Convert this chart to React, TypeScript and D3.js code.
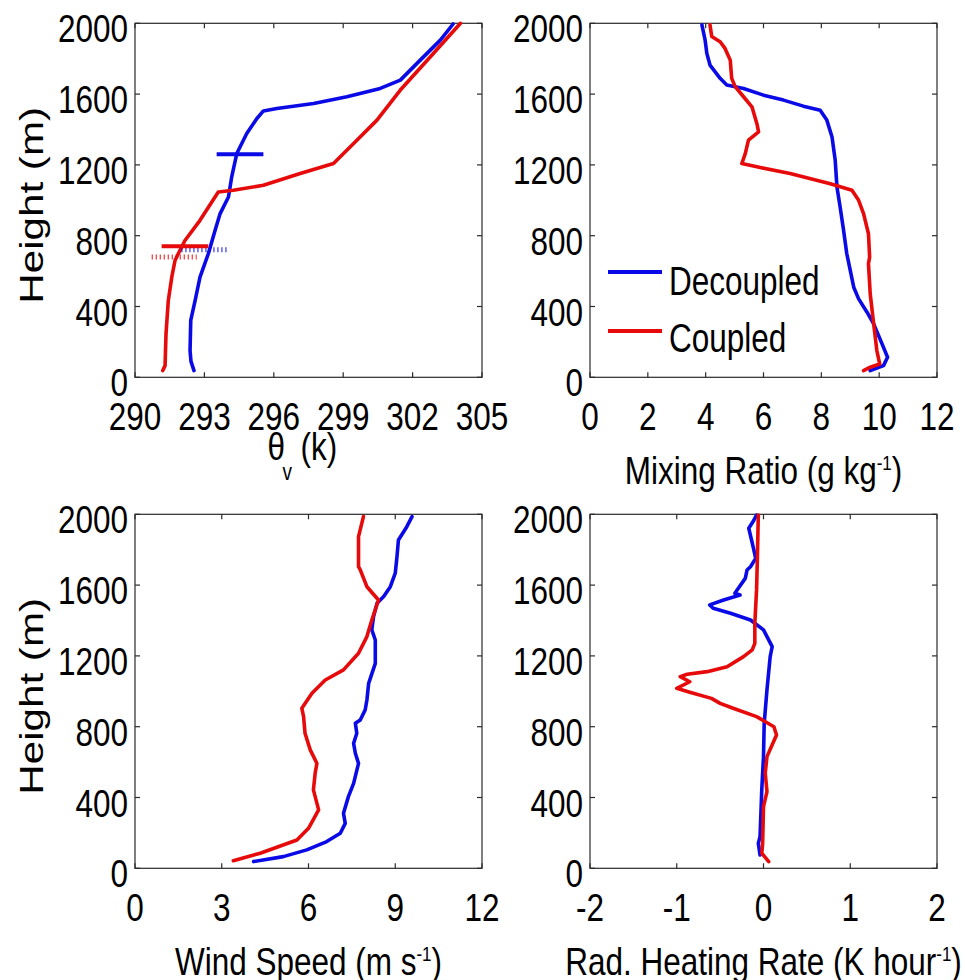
import React from "react";
import * as d3 from "d3";

// ---------------- data ----------------
const heightTicks = [0, 400, 800, 1200, 1600, 2000];
const thetaTicks = [290, 293, 296, 299, 302, 305];
const mixTicks = [0, 2, 4, 6, 8, 10, 12];
const windTicks = [0, 3, 6, 9, 12];
const heatTicks = [-2, -1, 0, 1, 2];

const seriesNames = ["Decoupled", "Coupled"];
const seriesColors = ["#0a0ae6", "#e60a0a"];

// [value, height (m)]
const thetaDecoupled: [number, number][] = [
  [292.55, 38], [292.42, 90], [292.38, 150], [292.41, 321], [292.6, 434], [292.81, 566],
  [293.17, 698], [293.46, 830], [293.68, 925], [294.04, 1019], [294.18, 1132],
  [294.4, 1264], [294.83, 1377], [295.27, 1462], [295.55, 1505], [296.13, 1519],
  [297.72, 1547], [299.16, 1585], [300.6, 1632], [301.47, 1679], [302.33, 1792],
  [303.2, 1905], [303.75, 1996],
];
const thetaCoupled: [number, number][] = [
  [291.2, 38], [291.3, 66], [291.34, 245], [291.44, 434], [291.59, 566], [291.73, 660],
  [291.87, 698], [292.16, 773], [292.81, 887], [293.6, 1047], [294.25, 1057],
  [295.55, 1085], [297.14, 1151], [298.58, 1208], [299.45, 1321], [300.46, 1453],
  [301.47, 1623], [302.77, 1811], [304.07, 2000],
];
// [x start, x end, height]
const thetaSolidMarkers: [number, number, number][] = [
  [293.53, 295.55, 1260],
  [291.15, 293.17, 741],
];
const thetaDottedMarkers: [number, number, number][] = [
  [292.0, 293.97, 721],
  [290.72, 292.67, 679],
];

const mixDecoupled: [number, number][] = [
  [9.69, 38], [10.15, 66], [10.29, 113], [10.1, 189], [9.81, 302], [9.58, 368],
  [9.29, 443], [9.12, 509], [9.0, 604], [8.88, 698], [8.77, 830], [8.65, 962],
  [8.54, 1075], [8.48, 1226], [8.37, 1358], [8.19, 1453], [7.96, 1509], [7.38, 1532],
  [6.69, 1566], [6.0, 1594], [5.31, 1632], [4.73, 1651], [4.5, 1689], [4.15, 1764],
  [4.04, 1830], [3.98, 1906], [3.87, 1991],
];
const mixCoupled: [number, number][] = [
  [9.46, 38], [9.69, 57], [10.02, 75], [9.92, 151], [9.81, 302], [9.69, 472],
  [9.63, 642], [9.67, 679], [9.63, 811], [9.46, 925], [9.29, 1000], [9.06, 1057],
  [8.31, 1094], [6.92, 1151], [5.77, 1189], [5.25, 1208], [5.37, 1264], [5.48, 1340],
  [5.83, 1387], [5.77, 1434], [5.6, 1528], [5.31, 1585], [5.02, 1642], [4.9, 1689],
  [4.85, 1792], [4.67, 1858], [4.5, 1896], [4.21, 1925], [4.15, 1991],
];

const windDecoupled: [number, number][] = [
  [4.1, 38], [5.13, 66], [5.94, 104], [6.63, 151], [7.1, 198], [7.27, 254],
  [7.21, 311], [7.38, 405], [7.56, 480], [7.73, 593], [7.62, 650], [7.56, 706],
  [7.67, 763], [7.62, 819], [7.79, 838], [7.96, 895], [8.02, 951], [8.08, 1045],
  [8.31, 1158], [8.31, 1290], [8.19, 1347], [8.25, 1422], [8.37, 1497], [8.6, 1535],
  [8.83, 1591], [9.0, 1667], [9.06, 1761], [9.11, 1855], [9.4, 1930], [9.58, 1987],
];
const windCoupled: [number, number][] = [
  [3.4, 43], [4.33, 85], [5.6, 160], [6.0, 226], [6.35, 330], [6.17, 443],
  [6.23, 537], [6.29, 593], [6.06, 669], [5.88, 763], [5.83, 857], [5.77, 904],
  [6.12, 989], [6.58, 1064], [7.21, 1121], [7.73, 1215], [8.02, 1309], [8.19, 1403],
  [8.42, 1516], [8.02, 1591], [7.79, 1686], [7.73, 1704], [7.73, 1874], [7.9, 1987],
];

const heatDecoupled: [number, number][] = [
  [-0.04, 75], [-0.06, 141], [-0.04, 179], [-0.02, 443], [0.0, 631], [0.008, 819],
  [0.04, 1008], [0.077, 1196], [0.1, 1252], [0.0, 1347], [-0.15, 1403], [-0.38, 1441],
  [-0.58, 1469], [-0.62, 1488], [-0.46, 1516], [-0.27, 1544], [-0.33, 1554],
  [-0.29, 1582], [-0.21, 1638], [-0.19, 1685], [-0.15, 1704], [-0.09, 1751],
  [-0.12, 1817], [-0.17, 1921], [-0.12, 1959], [-0.08, 1996],
];
const heatCoupled: [number, number][] = [
  [0.06, 38], [-0.02, 85], [-0.01, 141], [0.0, 348], [0.04, 433], [0.02, 537],
  [0.04, 631], [0.15, 753], [0.12, 800], [-0.08, 857], [-0.35, 904], [-0.5, 932],
  [-0.6, 960], [-0.85, 995], [-1.0, 1017], [-0.85, 1054], [-0.96, 1083], [-0.88, 1096],
  [-0.65, 1111], [-0.42, 1139], [-0.23, 1196], [-0.13, 1234], [-0.1, 1271],
  [-0.1, 1384], [-0.08, 1573], [-0.07, 1761], [-0.06, 1996],
];

// ---------------- layout ----------------
const W = 965;
const H = 980;
const PW = 347;
const PH = 354;
const FONT = "'Liberation Sans', Arial, Helvetica, sans-serif";
const FS = 31.5;
const SY = 1.22; // vertical stretch of text
const TICK = 5;

type PanelDef = {
  left: number;
  top: number;
  domain: [number, number];
  ticks: number[];
  series: [number, number][][];
  showYLabel: boolean;
  xlabel: string;
  legend?: boolean;
  markers?: boolean;
};

const panels: PanelDef[] = [
  { left: 135, top: 23.3, domain: [290, 305], ticks: thetaTicks, series: [thetaDecoupled, thetaCoupled], showYLabel: true, xlabel: "theta", markers: true },
  { left: 590, top: 23.3, domain: [0, 12], ticks: mixTicks, series: [mixDecoupled, mixCoupled], showYLabel: false, xlabel: "mix", legend: true },
  { left: 135, top: 514.3, domain: [0, 12], ticks: windTicks, series: [windDecoupled, windCoupled], showYLabel: true, xlabel: "wind" },
  { left: 590, top: 514.3, domain: [-2, 2], ticks: heatTicks, series: [heatDecoupled, heatCoupled], showYLabel: false, xlabel: "heat" },
];

function Txt(props: { x: number; y: number; anchor?: string; size?: number; sy?: number; rotate?: boolean; children: any }) {
  const { x, y, anchor = "start", size = FS, sy = SY, rotate = false, children } = props;
  return (
    <g transform={`translate(${x},${y}) scale(1,${sy})${rotate ? " rotate(-90)" : ""}`}>
      <text x={0} y={0} textAnchor={anchor as any} fontSize={size} fontFamily={FONT} fill="#000">
        {children}
      </text>
    </g>
  );
}

function XLabel({ kind, cx, bottom }: { kind: string; cx: number; bottom: number }) {
  const base = bottom + 107;
  const sup = (
    <>
      <tspan fontSize={17} dy={-12}>-1</tspan>
      <tspan dy={12}>)</tspan>
    </>
  );
  if (kind === "theta") {
    return (
      <g>
        <Txt x={cx - 41} y={bottom + 83}>θ</Txt>
        <Txt x={cx - 26} y={bottom + 103} size={19}>v</Txt>
        <Txt x={cx - 8} y={bottom + 83}>(k)</Txt>
      </g>
    );
  }
  const label = kind === "mix" ? "Mixing Ratio (g kg" : kind === "wind" ? "Wind Speed (m s" : "Rad. Heating Rate (K hour";
  return (
    <Txt x={cx} y={base} anchor="middle">
      {label}
      {sup}
    </Txt>
  );
}

function Panel({ p }: { p: PanelDef }) {
  const x = d3.scaleLinear().domain(p.domain).range([p.left, p.left + PW]);
  const y = d3.scaleLinear().domain([0, 2000]).range([p.top + PH, p.top]);
  const line = d3
    .line<[number, number]>()
    .x((d) => x(d[0]))
    .y((d) => y(d[1]));
  const bottom = p.top + PH;
  const right = p.left + PW;
  const cx = p.left + PW / 2;
  return (
    <g>
      <rect x={p.left} y={p.top} width={PW} height={PH} fill="#fff" stroke="#2a2a2a" strokeWidth={1.2} />
      {/* ticks */}
      {p.ticks.map((t) => (
        <g key={"xt" + t}>
          <line x1={x(t)} x2={x(t)} y1={bottom} y2={bottom - TICK} stroke="#2a2a2a" strokeWidth={1.2} />
          <line x1={x(t)} x2={x(t)} y1={p.top} y2={p.top + TICK} stroke="#2a2a2a" strokeWidth={1.2} />
          <Txt x={x(t)} y={bottom + 53} anchor="middle">{String(t)}</Txt>
        </g>
      ))}
      {heightTicks.map((t) => (
        <g key={"yt" + t}>
          <line x1={p.left} x2={p.left + TICK} y1={y(t)} y2={y(t)} stroke="#2a2a2a" strokeWidth={1.2} />
          <line x1={right} x2={right - TICK} y1={y(t)} y2={y(t)} stroke="#2a2a2a" strokeWidth={1.2} />
          <Txt x={p.left - 7} y={y(t) + 19} anchor="end">{String(t)}</Txt>
        </g>
      ))}
      {/* series: blue first, red on top */}
      {p.series.map((s, i) => (
        <path key={"s" + i} d={line(s) || ""} fill="none" stroke={seriesColors[i]} strokeWidth={3.6} strokeLinejoin="round" strokeLinecap="round" />
      ))}
      {p.markers &&
        thetaDottedMarkers.map((m, i) => (
          <line key={"dm" + i} x1={x(m[0])} x2={x(m[1])} y1={y(m[2])} y2={y(m[2])} stroke={seriesColors[i]} strokeOpacity={0.75} strokeWidth={5} strokeDasharray="1.3,2.7" />
        ))}
      {p.markers &&
        thetaSolidMarkers.map((m, i) => (
          <line key={"sm" + i} x1={x(m[0])} x2={x(m[1])} y1={y(m[2])} y2={y(m[2])} stroke={seriesColors[i]} strokeWidth={4} />
        ))}
      {p.legend && (
        <g>
          {seriesNames.map((n, i) => (
            <g key={n}>
              <line x1={p.left + 18} x2={p.left + 72} y1={272 + i * 59} y2={272 + i * 59} stroke={seriesColors[i]} strokeWidth={4} />
              <Txt x={p.left + 79} y={295 + i * 57} sy={1.3}>{n}</Txt>
            </g>
          ))}
        </g>
      )}
      {p.showYLabel && (
        <Txt x={43} y={p.top + PH / 2 + 5} anchor="middle" size={34} sy={1.24} rotate>
          Height (m)
        </Txt>
      )}
      <XLabel kind={p.xlabel} cx={cx} bottom={bottom} />
    </g>
  );
}

export default function App() {
  return (
    <div style={{ position: "absolute", left: 0, top: 0, width: W, height: H, background: "#fff" }}>
      <svg width={W} height={H} viewBox={`0 0 ${W} ${H}`} style={{ display: "block" }}>
        <rect x={0} y={0} width={W} height={H} fill="#fff" />
        {panels.map((p, i) => (
          <Panel key={i} p={p} />
        ))}
      </svg>
    </div>
  );
}
